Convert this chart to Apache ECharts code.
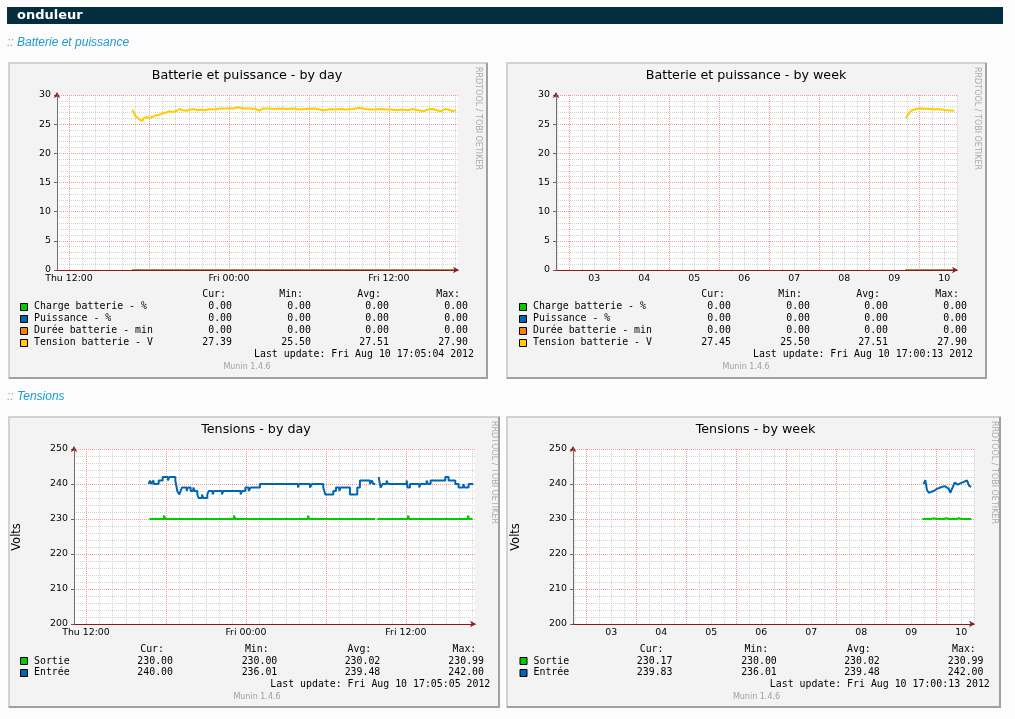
<!DOCTYPE html>
<html>
<head>
<meta charset="utf-8">
<script src="https://cdn.jsdelivr.net/npm/echarts@6/dist/echarts.min.js"></script>
<style>
html, body { margin: 0; padding: 0; background: #fcfcfc; }
#main { width: 1015px; height: 719px; }
</style>
</head>
<body>
<div id="main"></div>
<script>
// ---- tick labels ----
// day graphs: x = hours since Thu Aug 9 00:00
const dayLabelVals = [12, 24, 36]
const dayLabelTexts = ['Thu 12:00', 'Fri 00:00', 'Fri 12:00']
// week graphs: x = days since Aug 1 00:00, labels sit at noon
const weekLabelVals = [2.5, 3.5, 4.5, 5.5, 6.5, 7.5, 8.5, 9.5]
const weekLabelTexts = ['03', '04', '05', '06', '07', '08', '09', '10']

// ---- series names / colours ----
const battNames = ['Charge batterie - %', 'Puissance - %', 'Durée batterie - min', 'Tension batterie - V']
const battColors = ['#00cc00', '#0066b3', '#ff8000', '#ffcc00']
const tensNames = ['Sortie', 'Entrée']
const tensColors = ['#00cc00', '#0066b3']

// ---- Batterie et puissance ----
const battDayZero = [[16.75, 0], [41.0, 0]]
const battDayTension = [
  [16.75, 27.5], [16.85, 27.0], [16.95, 26.5], [17.1, 26.2], [17.25, 25.9], [17.4, 25.6], [17.5, 25.5],
  [17.6, 26.1], [17.9, 26.2], [18.1, 26.1], [18.3, 26.3], [18.5, 26.5], [18.75, 26.6], [18.9, 26.5],
  [19.05, 26.9], [19.3, 27.0], [19.5, 27.2], [19.8, 27.1], [20.1, 27.3], [20.3, 27.6], [20.5, 27.4],
  [20.8, 27.3], [21.1, 27.5], [21.35, 27.6], [21.6, 27.4], [21.9, 27.5], [22.2, 27.4], [22.5, 27.6],
  [22.9, 27.5], [23.3, 27.7], [23.8, 27.7], [24.3, 27.7], [24.7, 27.9], [25.1, 27.7], [25.6, 27.7],
  [26.0, 27.6], [26.3, 27.3], [26.5, 27.7], [27.0, 27.7], [27.4, 27.6], [27.9, 27.7], [28.4, 27.6],
  [28.8, 27.7], [29.2, 27.5], [29.6, 27.6], [30.0, 27.6], [30.4, 27.7], [30.8, 27.5], [31.2, 27.4],
  [31.6, 27.6], [32.0, 27.5], [32.4, 27.6], [32.8, 27.5], [33.3, 27.6], [33.8, 27.8], [34.2, 27.6],
  [34.6, 27.5], [35.0, 27.5], [35.4, 27.6], [35.8, 27.5], [36.2, 27.5], [36.6, 27.4], [37.0, 27.5],
  [37.4, 27.4], [37.8, 27.6], [38.2, 27.4], [38.6, 27.2], [38.9, 27.5], [39.3, 27.6], [39.6, 27.4],
  [39.9, 27.2], [40.2, 27.6], [40.5, 27.5], [40.75, 27.2], [41.0, 27.4]
]
const battWeekZero = [[8.72, 0], [9.70, 0]]
const battWeekTension = [
  [8.73, 26.0], [8.76, 26.2], [8.79, 26.8], [8.83, 27.3], [8.87, 27.55], [8.95, 27.65], [9.05, 27.7],
  [9.15, 27.65], [9.25, 27.6], [9.30, 27.5], [9.35, 27.6], [9.45, 27.5], [9.55, 27.4], [9.62, 27.35], [9.70, 27.3]
]
const battDayCur = [0, 0, 0, 27.39]
const battDayMin = [0, 0, 0, 25.50]
const battDayAvg = [0, 0, 0, 27.51]
const battDayMax = [0, 0, 0, 27.90]
const battWeekCur = [0, 0, 0, 27.45]
const battWeekMin = [0, 0, 0, 25.50]
const battWeekAvg = [0, 0, 0, 27.51]
const battWeekMax = [0, 0, 0, 27.90]

// ---- Tensions ----
const tensDaySortie = [
  [16.75, 230], [17.85, 231], [17.95, 230], [23.1, 231], [23.2, 230], [28.65, 231], [28.75, 230],
  [33.70, 230], [33.71, null], [33.85, 230], [36.15, 231], [36.25, 230], [40.65, 231], [40.75, 230], [41.0, 230]
]
const tensDayEntree = [
  [16.70, 240], [16.80, 241], [16.90, 240], [17.05, 241], [17.10, 240], [17.45, 241], [17.75, 242],
  [18.15, 241], [18.25, 242], [18.70, 241], [18.85, 238], [19.00, 237], [19.10, 238], [19.20, 239],
  [19.55, 238], [19.65, 239], [19.85, 238], [20.05, 239], [20.15, 238], [20.35, 237], [20.45, 236],
  [20.70, 237], [20.80, 236], [21.10, 237], [21.20, 238], [21.50, 237], [21.60, 238], [22.20, 237],
  [22.30, 238], [23.60, 237], [23.70, 238], [23.95, 239], [24.20, 238], [24.35, 239], [25.05, 240],
  [27.90, 239], [28.00, 240], [28.80, 239], [28.95, 240], [29.80, 239], [29.95, 237], [30.55, 238],
  [30.75, 239], [31.00, 238], [31.10, 239], [31.80, 237], [32.35, 239], [32.55, 241], [33.30, 240],
  [33.45, 241], [33.55, 240], [33.70, 240], [33.71, null], [33.95, 242], [34.10, 239], [34.25, 240],
  [34.55, 241], [34.65, 240], [36.05, 241], [36.12, 239], [36.30, 240], [37.00, 239], [37.10, 240],
  [37.55, 241], [37.65, 240], [37.85, 241], [38.95, 242], [39.20, 241], [39.70, 240], [39.95, 239],
  [40.30, 240], [40.40, 239], [40.70, 240], [41.05, 240]
]
const tensWeekSortie = [
  [8.72, 230], [8.9, 230], [8.95, 230.2], [9.0, 230], [9.15, 230], [9.2, 230.2], [9.25, 230],
  [9.4, 230], [9.45, 230.2], [9.5, 230], [9.70, 230]
]
const tensWeekEntree = [
  [8.746, 240], [8.78, 241.1], [8.813, 238.3], [8.85, 237.5], [8.88, 237.1], [8.947, 238], [9.013, 238.6],
  [9.08, 239], [9.167, 239.4], [9.247, 238.7], [9.28, 237.5], [9.313, 238], [9.367, 240.4], [9.433, 239.8],
  [9.48, 240.2], [9.547, 240.6], [9.613, 241], [9.66, 239.4], [9.70, 239.2]
]
const tensDayCur = [230.00, 240.00]
const tensDayMin = [230.00, 236.01]
const tensDayAvg = [230.02, 239.48]
const tensDayMax = [230.99, 242.00]
const tensWeekCur = [230.17, 239.83]
const tensWeekMin = [230.00, 236.01]
const tensWeekAvg = [230.02, 239.48]
const tensWeekMax = [230.99, 242.00]

// ---- styling ----
const FONT = 'DejaVu Sans'
const MONO = '9.9px "DejaVu Sans Mono"'
const MAJOR = '#f09a9a'
const MINOR = '#d4d4d4'
const AXIS_RED = '#8b1a1a'
const DAY_RANGE = [11.1, 41.18]
const WEEK_RANGE = [1.734, 9.754]
const PLOT_H = 175

const chart = echarts.init(document.getElementById('main'))

const grids = [
  { left: 57, top: 95, width: 401, height: PLOT_H },
  { left: 556, top: 95, width: 401, height: PLOT_H },
  { left: 74, top: 449, width: 401, height: PLOT_H },
  { left: 573, top: 449, width: 401, height: PLOT_H }
].map(g => Object.assign(g, { show: true, backgroundColor: '#ffffff', borderWidth: 0, z: 1 }))

const xAxis = []
const yAxis = []
const lab = { fontFamily: FONT, fontSize: 9.4, color: '#000' }

// vertical grid: every hour (day) / 6 hours (week); red ones every 6 hours / at midnight
function gridValues(range, step, majorEvery) {
  const major = [], minor = []
  for (let v = Math.ceil(range[0] / step) * step; v <= range[1]; v += step) {
    const r = Math.round(v * 1000) / 1000
    if (Math.abs(r / majorEvery - Math.round(r / majorEvery)) < 1e-6) major.push(r)
    else minor.push(r)
  }
  return { major, minor }
}

// full-height inside ticks act as the dotted vertical grid lines
function gridTicks(values, color) {
  return { show: true, inside: true, length: PLOT_H, customValues: values, lineStyle: { color, type: [1, 1], width: 1 } }
}

function addAxes(g, xr, step, majorEvery, labVals, labTexts, yr) {
  const gv = gridValues(xr, step, majorEvery)
  xAxis.push(
    { type: 'value', gridIndex: g, position: 'bottom', min: xr[0], max: xr[1], z: 6,
      axisLine: { show: true, onZero: false, lineStyle: { color: AXIS_RED }, symbol: ['none', 'arrow'], symbolSize: [5, 6], symbolOffset: [0, 1] },
      axisTick: { show: false }, axisLabel: { show: false }, splitLine: { show: false } },
    { type: 'value', gridIndex: g, position: 'bottom', min: xr[0], max: xr[1], z: 3,
      axisLine: { show: false }, axisTick: gridTicks(gv.major, MAJOR),
      axisLabel: Object.assign({ customValues: labVals, margin: 4, formatter: v => labTexts[labVals.indexOf(v)] || '' }, lab),
      splitLine: { show: false } },
    { type: 'value', gridIndex: g, position: 'bottom', min: xr[0], max: xr[1], z: 2,
      axisLine: { show: false }, axisTick: gridTicks(gv.minor, MINOR), axisLabel: { show: false },
      splitLine: { show: false } }
  )
  yAxis.push(
    { type: 'value', gridIndex: g, position: 'left', min: yr[0], max: yr[1], interval: yr[2], z: 3,
      axisLine: { show: false }, axisTick: { show: true, length: 3, lineStyle: { color: '#666' } },
      axisLabel: Object.assign({ margin: 6 }, lab),
      splitLine: { show: true, lineStyle: { color: MAJOR, type: [1, 1], width: 1 } },
      minorTick: { show: false, splitNumber: 5 },
      minorSplitLine: { show: true, lineStyle: { color: MINOR, type: [1, 1], width: 1 } } },
    { type: 'value', gridIndex: g, position: 'left', min: yr[0], max: yr[1], z: 6,
      axisLine: { show: true, onZero: false, lineStyle: { color: AXIS_RED }, symbol: ['none', 'arrow'], symbolSize: [5, 6], symbolOffset: [0, 3] },
      axisTick: { show: false }, axisLabel: { show: false }, splitLine: { show: false } },
    { type: 'value', gridIndex: g, position: 'left', min: yr[0], max: yr[1], z: 7,
      axisLine: { show: true, onZero: false, lineStyle: { color: '#707070' } },
      axisTick: { show: false }, axisLabel: { show: false }, splitLine: { show: false } }
  )
}

addAxes(0, DAY_RANGE, 1, 6, dayLabelVals, dayLabelTexts, [0, 30, 5])
addAxes(1, WEEK_RANGE, 0.25, 1, weekLabelVals, weekLabelTexts, [0, 30, 5])
addAxes(2, DAY_RANGE, 1, 6, dayLabelVals, dayLabelTexts, [200, 250, 10])
addAxes(3, WEEK_RANGE, 0.25, 1, weekLabelVals, weekLabelTexts, [200, 250, 10])

function line(g, name, data, color, width, step) {
  return { type: 'line', name, data, xAxisIndex: 3 * g, yAxisIndex: 3 * g, z: 5,
    showSymbol: false, symbol: 'none', step: step || false, connectNulls: false, silent: true,
    lineStyle: { color, width }, itemStyle: { color } }
}

const series = [
  line(0, battNames[0], battDayZero, battColors[0], 1),
  line(0, battNames[1], battDayZero, battColors[1], 1),
  line(0, battNames[2], battDayZero, battColors[2], 1),
  line(0, battNames[3], battDayTension, battColors[3], 2),
  line(1, battNames[0], battWeekZero, battColors[0], 1),
  line(1, battNames[1], battWeekZero, battColors[1], 1),
  line(1, battNames[2], battWeekZero, battColors[2], 1),
  line(1, battNames[3], battWeekTension, battColors[3], 2),
  line(2, tensNames[0], tensDaySortie, tensColors[0], 2, 'end'),
  line(2, tensNames[1], tensDayEntree, tensColors[1], 2, 'end'),
  line(3, tensNames[0], tensWeekSortie, tensColors[0], 2),
  line(3, tensNames[1], tensWeekEntree, tensColors[1], 2)
]

// ---- page furniture: frames, titles, legends ----
function txt(x, y, text, font, fill, align, rot) {
  return { type: 'text', x, y, rotation: rot || 0, z: 20, silent: true,
    style: { text, font, fill: fill || '#000', align: align || 'left', verticalAlign: 'middle' } }
}

function frame(x, y, w, h) {
  return [
    { type: 'rect', z: 0, silent: true, shape: { x, y, width: w, height: h }, style: { fill: '#f3f3f3' } },
    { type: 'polyline', z: 0, silent: true, shape: { points: [[x + 1, y + h], [x + 1, y + 1], [x + w, y + 1]] }, style: { stroke: '#d2d2d2', lineWidth: 2, fill: null } },
    { type: 'polyline', z: 0, silent: true, shape: { points: [[x + 1, y + h - 1], [x + w - 1, y + h - 1], [x + w - 1, y + 1]] }, style: { stroke: '#a0a0a0', lineWidth: 2, fill: null } }
  ]
}

const battLayout = { titleX: 247, titleY: 75.7, rrdX: 478.5, rrdY: 67, hdrY: 294.3, rowY: [306.7, 318.7, 330.7, 342.7],
  hdrX: [226, 303, 381, 460], valX: [232, 311, 389, 468], swX: 20.5, nameX: 34, lastX: 474, lastY: 354.5, muninX: 247, muninY: 367 }
const tensLayout = { titleX: 256, titleY: 429.3, rrdX: 494.5, rrdY: 421, hdrY: 649, rowY: [661, 672.7],
  hdrX: [164, 268.7, 371.3, 476.3], valX: [173, 277.3, 380.3, 484], swX: 20.5, nameX: 34, lastX: 490.3, lastY: 684.7, muninX: 257, muninY: 697.3 }

function panelText(ox, L, title, names, colors, cur, mn, avg, mx, lastUpdate) {
  const els = []
  els.push(txt(L.titleX + ox, L.titleY, title, '12.7px "DejaVu Sans"', '#000', 'center'))
  els.push(txt(L.rrdX + ox, L.rrdY, 'RRDTOOL / TOBI OETIKER', '8px "DejaVu Sans"', '#aaaaaa', 'left', -Math.PI / 2))
  ;['Cur:', 'Min:', 'Avg:', 'Max:'].forEach((h, i) => els.push(txt(L.hdrX[i] + ox, L.hdrY, h, MONO, '#000', 'right')))
  names.forEach((n, r) => {
    const y = L.rowY[r]
    els.push({ type: 'rect', z: 20, silent: true, shape: { x: L.swX + ox, y: Math.round(y) - 3.5, width: 7, height: 7 },
      style: { fill: colors[r], stroke: '#000', lineWidth: 1 } })
    els.push(txt(L.nameX + ox, y, n, MONO))
    ;[cur, mn, avg, mx].forEach((arr, i) => els.push(txt(L.valX[i] + ox, y, arr[r].toFixed(2), MONO, '#000', 'right')))
  })
  els.push(txt(L.lastX + ox, L.lastY, 'Last update: ' + lastUpdate, MONO, '#000', 'right'))
  els.push(txt(L.muninX + ox, L.muninY, 'Munin 1.4.6', '8px "DejaVu Sans"', '#a0a0a0', 'center'))
  return els
}

const graphic = [].concat(
  [{ type: 'rect', z: 0, silent: true, shape: { x: 7, y: 7, width: 996, height: 17 }, style: { fill: '#032e3e' } },
   txt(17, 16, 'onduleur', 'bold 13px "DejaVu Sans"', '#ffffff'),
   txt(7, 43, '::', 'italic 12px "Liberation Sans"', '#9a9a9a'),
   txt(17, 43, 'Batterie et puissance', 'italic 12px "Liberation Sans"', '#1f9bd0'),
   txt(7, 397, '::', 'italic 12px "Liberation Sans"', '#9a9a9a'),
   txt(17, 397, 'Tensions', 'italic 12px "Liberation Sans"', '#1f9bd0')],
  frame(8, 62, 480, 317),
  frame(506, 62, 481, 317),
  frame(8, 416, 492, 292),
  frame(506, 416, 495, 292),
  panelText(0, battLayout, 'Batterie et puissance - by day', battNames, battColors,
    battDayCur, battDayMin, battDayAvg, battDayMax, 'Fri Aug 10 17:05:04 2012'),
  panelText(499, battLayout, 'Batterie et puissance - by week', battNames, battColors,
    battWeekCur, battWeekMin, battWeekAvg, battWeekMax, 'Fri Aug 10 17:00:13 2012'),
  panelText(0, tensLayout, 'Tensions - by day', tensNames, tensColors,
    tensDayCur, tensDayMin, tensDayAvg, tensDayMax, 'Fri Aug 10 17:05:05 2012'),
  panelText(499.5, tensLayout, 'Tensions - by week', tensNames, tensColors,
    tensWeekCur, tensWeekMin, tensWeekAvg, tensWeekMax, 'Fri Aug 10 17:00:13 2012'),
  [txt(17, 537, 'Volts', '11.5px "DejaVu Sans"', '#000', 'center', Math.PI / 2),
   txt(516, 537, 'Volts', '11.5px "DejaVu Sans"', '#000', 'center', Math.PI / 2)]
)

chart.setOption({
  animation: false,
  backgroundColor: '#fcfcfc',
  grid: grids,
  xAxis,
  yAxis,
  series,
  graphic
})
</script>
</body>
</html>
